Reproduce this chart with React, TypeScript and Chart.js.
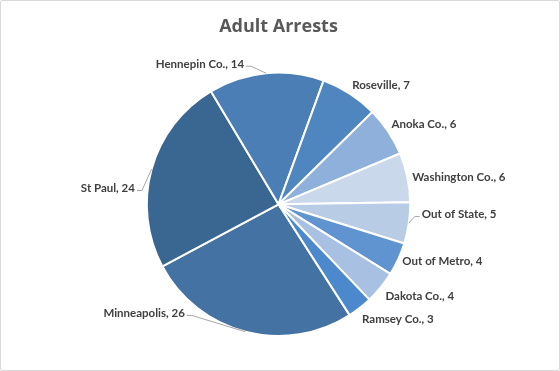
import React, { useEffect, useRef } from "react";
import { Chart, registerables } from "chart.js";

Chart.register(...registerables);

const categories = [
  "Minneapolis",
  "St Paul",
  "Hennepin Co.",
  "Roseville",
  "Anoka Co.",
  "Washington Co.",
  "Out of State",
  "Out of Metro",
  "Dakota Co.",
  "Ramsey Co.",
];
const arrests = [26, 24, 14, 7, 6, 6, 5, 4, 4, 3];
const sliceColors = [
  "#4472A3",
  "#3A6792",
  "#4A7EB5",
  "#4F86C0",
  "#8EB0DA",
  "#CAD8EC",
  "#B9CCE6",
  "#6094D0",
  "#A8C0E2",
  "#4C89CC",
];
// label nudges (px) away from the default outside position; leader drawn when nudged
const labelNudge: [number, number, boolean][] = [
  [-58, -28, true],
  [-7, 22, true],
  [-21, 1, true],
  [-3, 0, false],
  [-5, -2, false],
  [-5, 2, false],
  [3, -10, true],
  [-5, -2, false],
  [-3, 3, false],
  [-4, 4, false],
];

const labelPlugin = {
  id: "outsideLabels",
  afterDatasetsDraw(chart: any) {
    const ctx = chart.ctx;
    const meta = chart.getDatasetMeta(0);
    ctx.save();
    ctx.font = "bold 11.5px Lato, 'Open Sans', sans-serif";
    ctx.fillStyle = "#404040";
    ctx.textBaseline = "middle";
    meta.data.forEach((arc: any, i: number) => {
      const { x, y, startAngle, endAngle, outerRadius } = arc.getProps(
        ["x", "y", "startAngle", "endAngle", "outerRadius"],
        true
      );
      const mid = (startAngle + endAngle) / 2;
      const cos = Math.cos(mid);
      const sin = Math.sin(mid);
      const r = outerRadius + 10;
      const [dx, dy, leader] = labelNudge[i];
      const ax = x + cos * r + dx;
      const ay = y + sin * r + dy;
      const right = cos >= 0;
      const text = `${categories[i]}, ${arrests[i]}`;
      ctx.textAlign = right ? "left" : "right";
      ctx.fillText(text, ax, ay);
      if (leader) {
        const ex = x + cos * outerRadius;
        const ey = y + sin * outerRadius;
        const sx = right ? ax - 2 : ax + 2;
        const sy = ay + 2;
        const hx = right ? sx - 5 : sx + 5;
        ctx.strokeStyle = "#A6A6A6";
        ctx.lineWidth = 1;
        ctx.beginPath();
        ctx.moveTo(sx, sy);
        ctx.lineTo(hx, sy);
        ctx.lineTo(ex, ey);
        ctx.stroke();
      }
    });
    ctx.restore();
  },
};

export default function App() {
  const ref = useRef<HTMLCanvasElement>(null);
  useEffect(() => {
    if (!ref.current) return;
    const chart = new Chart(ref.current, {
      type: "pie",
      data: {
        labels: categories,
        datasets: [
          {
            data: arrests,
            backgroundColor: sliceColors,
            borderColor: "#FFFFFF",
            borderWidth: 2,
          },
        ],
      },
      options: {
        animation: false,
        responsive: false,
        rotation: 147.3,
        layout: { padding: { top: 2, bottom: 34, left: 137, right: 140 } },
        plugins: {
          legend: { display: false },
          tooltip: { enabled: false },
          title: {
            display: true,
            text: "Adult Arrests",
            color: "#595959",
            font: { size: 18, weight: "bold", family: "'Open Sans', sans-serif" },
            padding: { top: 14, bottom: 34 },
          },
        },
      },
      plugins: [labelPlugin],
    });
    return () => chart.destroy();
  }, []);
  return (
    <div
      style={{
        position: "fixed",
        left: 0,
        top: 0,
        width: 560,
        height: 371,
        background: "#FFFFFF",
      }}
    >
      <div
        style={{
          position: "absolute",
          left: 0,
          top: 0,
          width: 558,
          height: 369,
          border: "1px solid #D9D9D9",
          borderRadius: 2,
        }}
      />
      <canvas ref={ref} width={560} height={371} style={{ position: "absolute", left: 0, top: 0 }} />
    </div>
  );
}
